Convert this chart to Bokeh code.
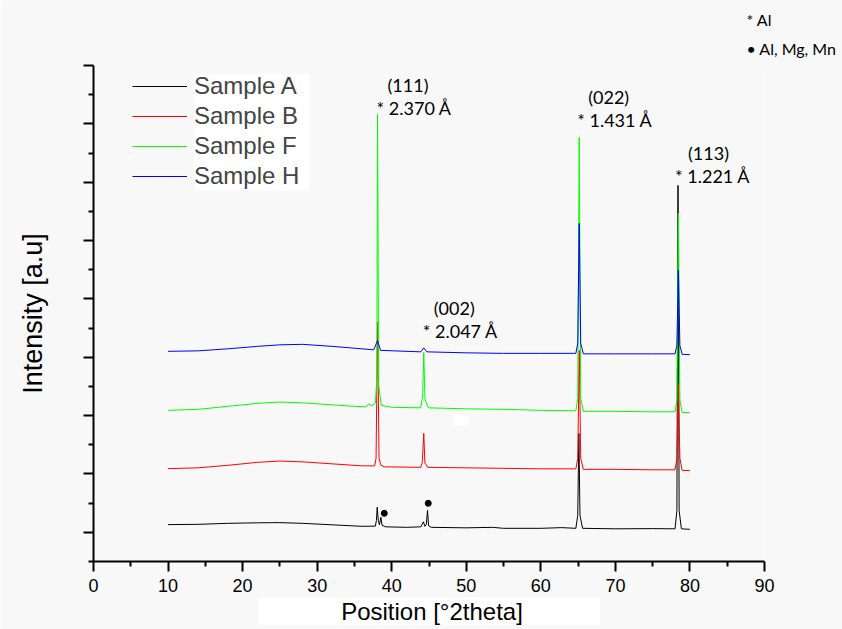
from bokeh.plotting import figure
from bokeh.models import (Range1d, FixedTicker, CustomJSTickFormatter, Legend,
                          LegendItem, Label, BoxAnnotation, Title)
from bokeh.embed import file_html
from bokeh.resources import INLINE

# ---------------- data ----------------
sample_names = ["Sample A", "Sample B", "Sample F", "Sample H"]
sample_colors = ["#000000", "#ff0000", "#00ff00", "#0000ff"]

a_x = [10, 14, 18, 22, 25, 28, 32, 36, 37.8, 37.95, 38.05, 38.2, 38.35, 38.55, 38.7,
       39.2, 42, 43.9, 44.25, 44.45, 44.65, 44.8, 44.95, 45.3, 50, 53.5, 55, 60, 62.8,
       64.7, 64.95, 65.1, 65.25, 65.6, 70, 75, 78.0, 78.25, 78.4, 78.55, 78.85, 80]
a_y = [264, 274, 308, 326, 332, 308, 257, 206, 212, 411, 857, 411, 257, 514, 240,
       188, 171, 188, 360, 206, 274, 754, 223, 171, 154, 171, 137, 137, 161,
       137, 583, 3393, 583, 137, 120, 127, 120, 754, 11892, 754, 120, 103]

b_x = [10, 14, 18, 22, 25, 28, 32, 36, 37.7, 37.9, 38.1, 38.3, 38.55, 39.0, 43.9,
       44.1, 44.3, 44.45, 44.6, 44.8, 50, 55, 60, 64.7, 64.95, 65.15, 65.35, 65.7,
       70, 75, 78.0, 78.25, 78.45, 78.65, 78.95, 80]
b_y = [2183, 2210, 2296, 2399, 2443, 2416, 2347, 2279, 2279, 2536, 7197, 2536, 2296, 2245, 2228,
       2399, 3393, 2365, 2330, 2228, 2210, 2193, 2176, 2176, 2536, 6237, 2536, 2159,
       2159, 2142, 2142, 2536, 5106, 2536, 2125, 2114]

f_x = [10, 14, 18, 22, 25, 28, 32, 35, 36.6, 36.9, 37.3, 37.8, 38.0, 38.1, 38.25, 38.6,
       40, 43.9, 44.15, 44.3, 44.45, 44.6, 44.9, 50, 55, 60, 64.7, 64.95, 65.15, 65.35,
       65.7, 70, 75, 78.0, 78.25, 78.45, 78.65, 78.95, 80]
f_y = [4181, 4215, 4318, 4421, 4465, 4438, 4369, 4318, 4301, 4404, 4335, 4421, 5209, 14325, 5038, 4352,
       4284, 4267, 4695, 6169, 4592, 4455, 4267, 4232, 4215, 4181, 4164, 4592, 13537, 4592,
       4147, 4147, 4130, 4130, 4524, 10932, 4524, 4112, 4102]

h_x = [10, 14, 18, 22, 25, 28, 32, 36, 37.6, 38.1, 38.5, 43.9, 44.3, 44.7, 50, 55, 60,
       64.7, 64.95, 65.15, 65.35, 65.7, 70, 75, 78.0, 78.25, 78.45, 78.65, 78.95, 80]
h_y = [6203, 6220, 6289, 6374, 6426, 6443, 6374, 6289, 6255, 6580, 6237, 6186, 6323, 6186, 6152, 6134, 6134,
       6134, 6477, 10589, 6477, 6117, 6117, 6117, 6117, 6409, 8979, 6409, 6100, 6090]

# peak annotations
peak_pos = [38.1, 44.3, 65.15, 78.4]
peak_hkl = ["(111)", "(002)", "(022)", "(113)"]
peak_d = ["* 2.370 Å", "* 2.047 Å", "* 1.431 Å", "* 1.221 Å"]

# secondary phase markers (Al, Mg, Mn)
dot_x = [39.0, 44.9]
dot_y = [651, 994]

phase_key = ["* Al", "• Al, Mg, Mn"]

x_ticks = [0, 10, 20, 30, 40, 50, 60, 70, 80, 90]
x_minor = [5, 15, 25, 35, 45, 55, 65, 75, 85]
y_ticks = [0, 2000, 4000, 6000, 8000, 10000, 12000, 14000, 16000]
y_minor = [-1000, 1000, 3000, 5000, 7000, 9000, 11000, 13000, 15000]

# ---------------- layout / style ----------------
BG = "#f8f8f8"
d_offsets = [(-1, 6), (-1, 17), (-2, 17), (-3, 9)]
hkl_offsets = [(10, 29), (10, 40), (9, 40), (10, 32)]

p = figure(width=842, height=629, output_backend="svg", toolbar_location=None,
           x_range=Range1d(0, 90), y_range=Range1d(-1000, 16000),
           min_border_left=93, min_border_right=78, min_border_top=65, min_border_bottom=68)
p.background_fill_color = BG
p.border_fill_color = BG
p.outline_line_color = None
p.xgrid.visible = False
p.ygrid.visible = False

for ax in (p.xaxis[0], p.yaxis[0]):
    ax.axis_line_width = 2
    ax.axis_line_color = "black"
    ax.major_tick_in = 0
    ax.major_tick_out = 10
    ax.minor_tick_in = 0
    ax.minor_tick_out = 5
    ax.major_tick_line_width = 2
    ax.minor_tick_line_width = 2
    ax.major_tick_line_color = "black"
    ax.minor_tick_line_color = "black"

p.xaxis.ticker = FixedTicker(ticks=x_ticks, minor_ticks=x_minor)
p.xaxis.major_label_text_font = "Liberation Sans"
p.xaxis.major_label_text_font_size = "18px"
p.xaxis.major_label_text_color = "black"
p.xaxis.major_label_standoff = 7

p.yaxis.ticker = FixedTicker(ticks=y_ticks, minor_ticks=y_minor)
p.yaxis.formatter = CustomJSTickFormatter(code="return ''")
p.yaxis.major_label_standoff = 0
p.yaxis.axis_label = "Intensity [a.u]"
p.yaxis.axis_label_text_font = "Liberation Sans"
p.yaxis.axis_label_text_font_size = "27px"
p.yaxis.axis_label_text_font_style = "normal"
p.yaxis.axis_label_text_color = "black"
p.yaxis.axis_label_standoff = 36

# x-axis title as a title below the axis (white patch behind it, as in the image)
p.add_layout(Title(text="Position [°2theta]", align="center", standoff=2,
                   text_font="Liberation Sans", text_font_size="24px",
                   text_font_style="normal", text_color="black",
                   background_fill_color="white",
                   padding=dict(left=83, right=77, top=0, bottom=0)), "below")

# phase key in the top-right corner (first added sits nearest the frame)
p.add_layout(Title(text=phase_key[1], align="left", offset=653, standoff=16,
                   text_font="Lato", text_font_size="16px", text_font_style="normal",
                   text_color="black"), "above")
p.add_layout(Title(text=phase_key[0], align="left", offset=653, standoff=0,
                   text_font="Lato", text_font_size="16px", text_font_style="normal",
                   text_color="black"), "above")

# white patches behind legend texts and one small patch (as in the original image)
p.add_layout(BoxAnnotation(left=13.55, right=28.97, bottom=11720, top=15696,
                           fill_color="white", fill_alpha=1, line_color=None))
p.add_layout(BoxAnnotation(left=48.3, right=50.3, bottom=3667, top=4010,
                           fill_color="white", fill_alpha=1, line_color=None))

series = [(a_x, a_y), (b_x, b_y), (f_x, f_y), (h_x, h_y)]
rends = []
for (xs, ys), c in zip(series, sample_colors):
    rends.append(p.line(xs, ys, line_color=c, line_width=1))

p.scatter(dot_x, dot_y, size=6, color="black")

legend = Legend(items=[LegendItem(label=n, renderers=[r]) for n, r in zip(sample_names, rends)],
                location=(39, 370), glyph_width=55, glyph_height=30, label_height=30,
                label_standoff=7, spacing=0, padding=0, margin=0,
                background_fill_alpha=0, border_line_color=None,
                label_text_font="Liberation Sans", label_text_font_size="24px")
p.add_layout(legend)


def top_at(pos):
    return max(y for xs, ys in series for x, y in zip(xs, ys) if abs(x - pos) < 0.3)


for pos, hkl, d, (dxd, dyd), (dxh, dyh) in zip(peak_pos, peak_hkl, peak_d, d_offsets, hkl_offsets):
    top = top_at(pos)
    p.add_layout(Label(x=pos, y=top, x_offset=dxd, y_offset=dyd, text=d,
                       text_baseline="middle", text_align="left",
                       text_font="Lato", text_font_size="18px", text_color="black"))
    p.add_layout(Label(x=pos, y=top, x_offset=dxh, y_offset=dyh, text=hkl,
                       text_baseline="middle", text_align="left",
                       text_font="Lato", text_font_size="18px", text_color="black"))

open("out.html", "w").write(file_html(p, INLINE))
